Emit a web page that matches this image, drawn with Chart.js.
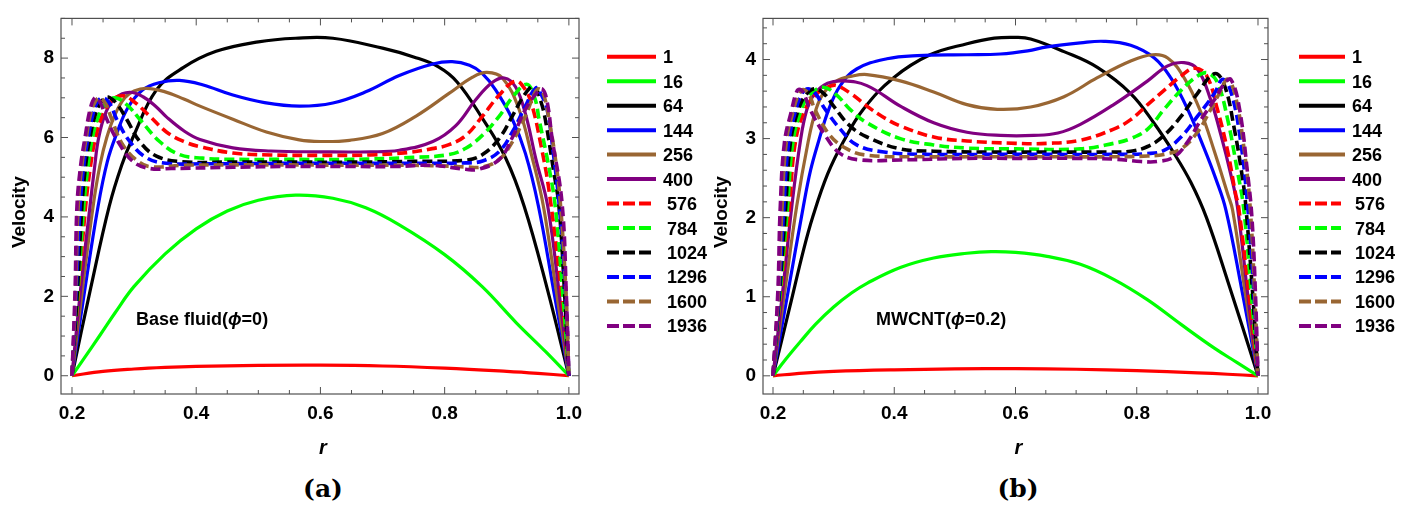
<!DOCTYPE html>
<html lang="en">
<head>
<meta charset="UTF-8">
<title>Velocity profiles</title>
<script src="https://cdn.jsdelivr.net/npm/chart.js"></script>
<style>
  body { margin: 0; background: #fff; }
  .wrap { position: relative; width: 1410px; height: 508px; overflow: hidden; background: #fff; }
  .panel { position: absolute; top: 0; height: 470px; }
  #boxA { left: 0; width: 712px; }
  #boxB { left: 700px; width: 710px; }
  .caption {
    position: absolute; top: 474px; width: 80px; text-align: center;
    font-family: "DejaVu Serif", serif; font-weight: bold; font-size: 25px; color: #000;
  }
</style>
</head>
<body>
<div class="wrap">
  <div class="panel" id="boxA"><canvas id="chartA"></canvas></div>
  <div class="panel" id="boxB"><canvas id="chartB"></canvas></div>
  <div class="caption" style="left:283px">(a)</div>
  <div class="caption" style="left:978px">(b)</div>
</div>

<script>
// legend entries and styles
const seriesNames = ['1', '16', '64', '144', '256', '400', '576', '784', '1024', '1296', '1600', '1936'];
const colors = ['#ff0000', '#00ff00', '#000000', '#0000ff', '#996633', '#800080',
                '#ff0000', '#00ff00', '#000000', '#0000ff', '#996633', '#800080'];
const dashed = [false, false, false, false, false, false, true, true, true, true, true, true];

// tick labels
const xTicksA = [0.2, 0.4, 0.6, 0.8, 1.0];
const yTicksA = [0, 2, 4, 6, 8];
const xTicksB = [0.2, 0.4, 0.6, 0.8, 1.0];
const yTicksB = [0, 1, 2, 3, 4];

// (a) base fluid, phi = 0   -- [r, velocity]
const a1 = [[0.2,0],[0.25,0.11],[0.3,0.17],[0.35,0.21],[0.4,0.235],[0.5,0.26],[0.6,0.265],[0.7,0.245],[0.8,0.19],[0.9,0.11],[0.95,0.06],[1,0]];
const a16 = [[0.2,0],[0.22,0.45],[0.245,1.02],[0.27,1.6],[0.3,2.25],[0.35,3.07],[0.4,3.7],[0.45,4.15],[0.5,4.42],[0.56,4.55],[0.62,4.47],[0.673,4.23],[0.727,3.8],[0.8,3.05],[0.86,2.25],[0.915,1.34],[0.963,0.6],[1,0]];
const a64 = [[0.2,0],[0.23,2.2],[0.26,4.27],[0.28,5.3],[0.298,6.0],[0.336,7.2],[0.379,7.76],[0.432,8.17],[0.5,8.41],[0.56,8.5],[0.62,8.5],[0.7,8.25],[0.75,8.03],[0.79,7.78],[0.82,7.4],[0.86,6.5],[0.898,5.49],[0.928,4.27],[0.965,2.2],[1,0]];
const a144 = [[0.2,0],[0.22,2.1],[0.242,4.27],[0.257,5.4],[0.272,6.1],[0.29,6.75],[0.314,7.2],[0.34,7.38],[0.373,7.44],[0.41,7.33],[0.459,7.07],[0.51,6.88],[0.566,6.79],[0.62,6.87],[0.673,7.15],[0.727,7.56],[0.781,7.85],[0.812,7.91],[0.84,7.82],[0.86,7.62],[0.882,7.2],[0.909,6.46],[0.93,5.6],[0.951,4.27],[0.976,2.1],[1,0]];
const a256 = [[0.2,0],[0.217,2.2],[0.234,4.27],[0.245,5.3],[0.256,6.0],[0.27,6.6],[0.285,7.0],[0.3,7.17],[0.32,7.24],[0.35,7.15],[0.38,6.97],[0.406,6.79],[0.459,6.46],[0.513,6.14],[0.566,5.94],[0.6,5.9],[0.647,5.93],[0.7,6.1],[0.754,6.54],[0.807,7.11],[0.845,7.52],[0.868,7.64],[0.893,7.5],[0.92,6.7],[0.941,5.49],[0.959,4.27],[0.98,2.1],[1,0]];
const a400 = [[0.2,0],[0.214,2.2],[0.229,4.27],[0.236,5.2],[0.243,6.0],[0.255,6.65],[0.27,7.0],[0.293,7.14],[0.315,7.02],[0.335,6.78],[0.352,6.52],[0.38,6.17],[0.406,5.95],[0.459,5.74],[0.52,5.66],[0.6,5.64],[0.68,5.64],[0.727,5.68],[0.781,5.9],[0.818,6.3],[0.85,6.95],[0.876,7.38],[0.896,7.5],[0.914,7.28],[0.93,6.6],[0.947,5.45],[0.966,4.27],[0.985,2.0],[1,0]];
const a576 = [[0.2,0],[0.211,2.2],[0.222,4.27],[0.23,5.3],[0.238,6.0],[0.25,6.6],[0.265,6.95],[0.283,7.05],[0.3,6.9],[0.325,6.54],[0.352,6.14],[0.38,5.9],[0.406,5.77],[0.459,5.61],[0.52,5.56],[0.6,5.55],[0.68,5.56],[0.74,5.62],[0.78,5.72],[0.807,5.82],[0.834,6.05],[0.861,6.54],[0.888,7.07],[0.914,7.42],[0.93,7.2],[0.941,6.79],[0.954,5.89],[0.968,4.67],[0.988,2.1],[1,0]];
const a784 = [[0.2,0],[0.21,2.2],[0.219,4.27],[0.226,5.3],[0.233,6.0],[0.243,6.55],[0.256,6.9],[0.27,7.0],[0.29,6.8],[0.309,6.46],[0.341,5.9],[0.373,5.57],[0.41,5.48],[0.459,5.45],[0.55,5.45],[0.65,5.45],[0.75,5.5],[0.807,5.57],[0.834,5.73],[0.861,6.06],[0.888,6.54],[0.91,7.03],[0.932,7.34],[0.945,7.0],[0.952,6.46],[0.968,5.24],[0.978,4.27],[0.99,2.1],[1,0]];
const a1024 = [[0.2,0],[0.209,2.2],[0.216,4.27],[0.222,5.3],[0.229,6.0],[0.238,6.6],[0.248,6.92],[0.258,7.02],[0.272,6.85],[0.288,6.46],[0.309,5.9],[0.336,5.53],[0.378,5.39],[0.45,5.38],[0.55,5.38],[0.65,5.38],[0.75,5.4],[0.834,5.43],[0.861,5.57],[0.888,5.98],[0.909,6.54],[0.93,7.11],[0.944,7.29],[0.955,6.9],[0.962,6.46],[0.975,5.2],[0.984,4.27],[0.993,2.1],[1,0]];
const a1296 = [[0.2,0],[0.207,2.2],[0.213,4.27],[0.219,5.3],[0.226,6.0],[0.234,6.6],[0.242,6.92],[0.25,7.0],[0.261,6.85],[0.272,6.46],[0.293,5.9],[0.32,5.49],[0.352,5.35],[0.42,5.34],[0.55,5.35],[0.65,5.35],[0.75,5.35],[0.834,5.36],[0.861,5.41],[0.888,5.65],[0.909,6.14],[0.93,6.79],[0.947,7.25],[0.955,7.1],[0.965,6.7],[0.975,5.6],[0.985,4.2],[0.995,2.0],[1,0]];
const a1600 = [[0.2,0],[0.206,2.2],[0.21,4.27],[0.216,5.3],[0.223,6.0],[0.23,6.6],[0.238,6.92],[0.245,7.0],[0.254,6.85],[0.264,6.46],[0.282,5.81],[0.309,5.37],[0.33,5.26],[0.378,5.3],[0.45,5.31],[0.55,5.31],[0.65,5.3],[0.75,5.3],[0.807,5.28],[0.834,5.26],[0.861,5.26],[0.888,5.45],[0.909,5.89],[0.93,6.54],[0.946,7.15],[0.953,7.22],[0.96,7.05],[0.968,6.46],[0.978,5.5],[0.986,4.4],[0.995,2.2],[1,0]];
const a1936 = [[0.2,0],[0.205,2.2],[0.208,4.27],[0.214,5.3],[0.221,6.0],[0.229,6.7],[0.237,7.0],[0.245,6.9],[0.256,6.46],[0.274,5.9],[0.298,5.4],[0.325,5.22],[0.36,5.22],[0.459,5.25],[0.55,5.27],[0.65,5.27],[0.72,5.27],[0.78,5.3],[0.834,5.2],[0.855,5.2],[0.888,5.45],[0.909,6.0],[0.93,6.71],[0.947,7.1],[0.957,7.22],[0.965,6.9],[0.973,5.98],[0.989,4.35],[0.996,2.0],[1,0]];

// (b) MWCNT, phi = 0.2   -- [r, velocity]
const b1 = [[0.2,0],[0.25,0.035],[0.3,0.055],[0.4,0.075],[0.5,0.087],[0.6,0.09],[0.7,0.083],[0.8,0.065],[0.9,0.038],[0.95,0.02],[1,0]];
const b16 = [[0.2,0],[0.22,0.2],[0.245,0.43],[0.27,0.65],[0.3,0.87],[0.33,1.05],[0.355,1.17],[0.41,1.37],[0.465,1.49],[0.52,1.55],[0.56,1.57],[0.6,1.56],[0.652,1.51],[0.707,1.41],[0.762,1.22],[0.818,0.96],[0.873,0.65],[0.928,0.35],[0.965,0.17],[1,0]];
const b64 = [[0.2,0],[0.228,0.88],[0.25,1.58],[0.266,2.02],[0.29,2.55],[0.316,2.96],[0.349,3.37],[0.399,3.77],[0.459,4.06],[0.52,4.2],[0.565,4.27],[0.6,4.28],[0.625,4.26],[0.68,4.1],[0.735,3.9],[0.79,3.57],[0.828,3.2],[0.861,2.82],[0.889,2.45],[0.915,2.0],[0.95,1.2],[1,0]];
const b144 = [[0.2,0],[0.225,1.07],[0.25,2.14],[0.262,2.6],[0.275,2.96],[0.292,3.37],[0.311,3.67],[0.338,3.88],[0.388,4.01],[0.438,4.05],[0.52,4.06],[0.575,4.07],[0.62,4.11],[0.652,4.16],[0.707,4.21],[0.746,4.23],[0.79,4.18],[0.829,4.02],[0.856,3.77],[0.884,3.37],[0.911,2.88],[0.93,2.5],[0.947,2.1],[0.973,1.1],[1,0]];
const b256 = [[0.2,0],[0.22,1.1],[0.239,2.14],[0.258,2.96],[0.271,3.37],[0.283,3.57],[0.305,3.73],[0.33,3.79],[0.355,3.81],[0.41,3.73],[0.465,3.59],[0.52,3.43],[0.57,3.37],[0.625,3.4],[0.68,3.53],[0.735,3.77],[0.79,3.98],[0.826,4.06],[0.851,4.02],[0.878,3.77],[0.906,3.33],[0.928,2.84],[0.95,2.3],[0.958,2.1],[0.98,1.0],[1,0]];
const b400 = [[0.2,0],[0.216,1.07],[0.231,2.14],[0.245,2.96],[0.256,3.37],[0.269,3.57],[0.29,3.7],[0.316,3.73],[0.355,3.67],[0.41,3.41],[0.465,3.2],[0.52,3.08],[0.575,3.04],[0.63,3.04],[0.67,3.07],[0.707,3.18],[0.762,3.43],[0.818,3.73],[0.851,3.92],[0.878,3.96],[0.9,3.88],[0.922,3.49],[0.939,3.04],[0.955,2.55],[0.966,2.14],[0.985,0.9],[1,0]];
const b576 = [[0.2,0],[0.213,1.07],[0.227,2.14],[0.237,2.96],[0.253,3.37],[0.27,3.55],[0.29,3.65],[0.305,3.67],[0.33,3.56],[0.355,3.41],[0.38,3.28],[0.41,3.16],[0.465,3.02],[0.52,2.97],[0.6,2.94],[0.652,2.94],[0.707,2.98],[0.762,3.12],[0.79,3.24],[0.818,3.43],[0.845,3.61],[0.873,3.79],[0.895,3.89],[0.915,3.8],[0.933,3.37],[0.95,2.84],[0.963,2.3],[0.968,2.14],[0.987,0.9],[1,0]];
const b784 = [[0.2,0],[0.212,1.07],[0.224,2.14],[0.233,2.96],[0.247,3.37],[0.26,3.55],[0.283,3.65],[0.305,3.55],[0.327,3.37],[0.355,3.2],[0.41,3.0],[0.465,2.92],[0.52,2.88],[0.6,2.87],[0.707,2.87],[0.762,2.94],[0.79,3.0],[0.818,3.12],[0.845,3.37],[0.873,3.61],[0.9,3.79],[0.917,3.83],[0.933,3.71],[0.95,3.24],[0.966,2.59],[0.976,2.14],[0.99,0.95],[1,0]];
const b1024 = [[0.2,0],[0.211,1.07],[0.221,2.14],[0.229,2.96],[0.242,3.37],[0.254,3.55],[0.269,3.63],[0.285,3.56],[0.3,3.41],[0.327,3.16],[0.355,3.02],[0.41,2.87],[0.465,2.84],[0.55,2.83],[0.65,2.83],[0.75,2.83],[0.79,2.84],[0.818,2.9],[0.845,3.04],[0.873,3.28],[0.9,3.57],[0.928,3.82],[0.944,3.69],[0.961,3.12],[0.975,2.47],[0.98,2.14],[0.992,0.95],[1,0]];
const b1296 = [[0.2,0],[0.21,1.07],[0.218,2.14],[0.226,2.96],[0.238,3.37],[0.248,3.57],[0.258,3.63],[0.27,3.57],[0.286,3.37],[0.311,3.12],[0.338,2.92],[0.383,2.83],[0.45,2.8],[0.55,2.8],[0.65,2.8],[0.76,2.8],[0.818,2.81],[0.845,2.85],[0.873,3.02],[0.9,3.28],[0.928,3.57],[0.942,3.75],[0.955,3.6],[0.97,3.04],[0.983,2.14],[0.994,0.95],[1,0]];
const b1600 = [[0.2,0],[0.209,1.07],[0.215,2.14],[0.222,2.96],[0.234,3.37],[0.242,3.55],[0.25,3.62],[0.26,3.55],[0.269,3.37],[0.294,3.04],[0.322,2.87],[0.355,2.79],[0.45,2.77],[0.55,2.77],[0.65,2.77],[0.76,2.77],[0.818,2.78],[0.845,2.8],[0.873,2.87],[0.9,3.08],[0.922,3.37],[0.939,3.61],[0.95,3.75],[0.963,3.53],[0.977,2.87],[0.987,2.14],[0.995,0.95],[1,0]];
const b1936 = [[0.2,0],[0.208,1.07],[0.212,2.14],[0.219,2.96],[0.231,3.37],[0.237,3.55],[0.242,3.62],[0.25,3.58],[0.261,3.37],[0.286,3.04],[0.311,2.81],[0.344,2.73],[0.41,2.73],[0.52,2.75],[0.6,2.75],[0.7,2.75],[0.762,2.74],[0.807,2.71],[0.834,2.71],[0.862,2.77],[0.884,2.96],[0.906,3.24],[0.928,3.49],[0.944,3.69],[0.955,3.75],[0.969,3.4],[0.983,2.55],[0.99,2.0],[0.996,1.0],[1,0]];

const seriesA = [a1, a16, a64, a144, a256, a400, a576, a784, a1024, a1296, a1600, a1936];
const seriesB = [b1, b16, b64, b144, b256, b400, b576, b784, b1024, b1296, b1600, b1936];

const FONT = '"Liberation Sans", Arial, sans-serif';

function makeDatasets(series) {
  return series.map((pts, i) => ({
    label: seriesNames[i],
    data: pts.map(p => ({ x: p[0], y: p[1] })),
    borderColor: colors[i],
    borderWidth: dashed[i] ? 3.6 : 3.2,
    borderDash: dashed[i] ? [10, 5] : [],
    pointRadius: 0,
    fill: false,
    tension: 0.4,
    order: -i   // later series drawn on top, like the original
  }));
}

// frame with inward ticks, axis titles, note and legend
function decorations(opt) {
  return {
    id: 'deco',
    afterDatasetsDraw(chart) {
      const { ctx, chartArea: ca, scales: { x, y } } = chart;
      ctx.save();
      ctx.strokeStyle = '#505050';
      ctx.lineWidth = 1.2;
      ctx.strokeRect(ca.left, ca.top, ca.right - ca.left, ca.bottom - ca.top);

      ctx.lineWidth = 1;
      const xs = [];
      for (let k = 0; k <= 16; k++) xs.push(Math.round((0.2 + k * 0.05) * 100) / 100);
      xs.forEach(v => {
        const major = opt.xTicks.some(t => Math.abs(t - v) < 1e-6);
        const len = major ? 7 : 4;
        const px = x.getPixelForValue(v);
        ctx.beginPath();
        ctx.moveTo(px, ca.bottom); ctx.lineTo(px, ca.bottom - len);
        ctx.moveTo(px, ca.top); ctx.lineTo(px, ca.top + len);
        ctx.stroke();
      });
      const nMinor = Math.floor(opt.yMax / opt.yMinorStep);
      for (let k = 0; k <= nMinor; k++) {
        const v = Math.round(k * opt.yMinorStep * 100) / 100;
        const major = opt.yTicks.some(t => Math.abs(t - v) < 1e-6);
        const len = major ? 7 : 4;
        const py = y.getPixelForValue(v);
        ctx.beginPath();
        ctx.moveTo(ca.left, py); ctx.lineTo(ca.left + len, py);
        ctx.moveTo(ca.right, py); ctx.lineTo(ca.right - len, py);
        ctx.stroke();
      }

      // axis titles
      ctx.fillStyle = '#000';
      ctx.textAlign = 'center';
      ctx.textBaseline = 'middle';
      ctx.font = 'bold 19px ' + FONT;
      ctx.save();
      ctx.translate(ca.left - 41, (ca.top + ca.bottom) / 2 + 6);
      ctx.rotate(-Math.PI / 2);
      ctx.fillText('Velocity', 0, 0);
      ctx.restore();
      ctx.font = 'italic bold 20px ' + FONT;
      ctx.fillText('r', (ca.left + ca.right) / 2 + 3, ca.bottom + 54);

      // in-plot note: text ( phi = value )
      let nx = x.getPixelForValue(opt.noteR);
      const ny = y.getPixelForValue(opt.noteV);
      ctx.textAlign = 'left';
      const parts = [[opt.notePre, 'bold'], ['\u03D5', 'italic bold'], [opt.notePost, 'bold']];
      parts.forEach(([t, st]) => {
        ctx.font = st + ' 18px ' + FONT;
        ctx.fillText(t, nx, ny);
        nx += ctx.measureText(t).width;
      });

      // legend
      ctx.font = 'bold 18px ' + FONT;
      ctx.lineWidth = 4;
      seriesNames.forEach((name, i) => {
        const ry = opt.legendTop + i * 24.48;
        ctx.strokeStyle = colors[i];
        ctx.setLineDash(dashed[i] ? [12, 4] : []);
        ctx.beginPath();
        ctx.moveTo(opt.legendX, ry);
        ctx.lineTo(opt.legendX + (dashed[i] ? opt.dashLen : opt.solidLen), ry);
        ctx.stroke();
        ctx.fillText(name, dashed[i] ? opt.labelDashX : opt.labelX, ry + 1.5);
      });
      ctx.setLineDash([]);
      ctx.restore();
    }
  };
}

function makeChart(id, series, opt) {
  const tickFont = { family: FONT, size: 19, weight: 'bold' };
  return new Chart(document.getElementById(id), {
    type: 'line',
    data: { datasets: makeDatasets(series) },
    options: {
      responsive: true,
      maintainAspectRatio: false,
      animation: false,
      layout: { padding: { left: 0, top: 6, right: opt.padRight, bottom: 0 } },
      plugins: { legend: { display: false }, tooltip: { enabled: false } },
      scales: {
        x: {
          type: 'linear', min: opt.xMin, max: opt.xMax,
          grid: { display: false, drawTicks: false },
          border: { display: false },
          ticks: { font: tickFont, color: '#000', padding: 8, maxRotation: 0, callback: v => v.toFixed(1) },
          afterBuildTicks: s => { s.ticks = opt.xTicks.map(v => ({ value: v })); },
          afterFit: s => { s.height = 76; }
        },
        y: {
          type: 'linear', min: opt.yMin, max: opt.yMax,
          grid: { display: false, drawTicks: false },
          border: { display: false },
          ticks: { font: tickFont, color: '#000', padding: 7, callback: v => String(v) },
          afterBuildTicks: s => { s.ticks = opt.yTicks.map(v => ({ value: v })); },
          afterFit: s => { s.width = opt.axisW; }
        }
      }
    },
    plugins: [decorations(opt)]
  });
}

makeChart('chartA', seriesA, {
  xMin: 0.1823, xMax: 1.0163, yMin: -0.46, yMax: 9.0,
  xTicks: xTicksA, yTicks: yTicksA, yMinorStep: 0.5,
  padRight: 133, axisW: 61,
  noteR: 0.303, noteV: 1.41, notePre: 'Base fluid(', notePost: '=0)',
  legendX: 607, solidLen: 49, dashLen: 44, labelX: 663, labelDashX: 667, legendTop: 56.7
});

makeChart('chartB', seriesB, {
  xMin: 0.1835, xMax: 1.0165, yMin: -0.23, yMax: 4.52,
  xTicks: xTicksB, yTicks: yTicksB, yMinorStep: 0.2,
  padRight: 142, axisW: 63,
  noteR: 0.37, noteV: 0.70, notePre: 'MWCNT(', notePost: '=0.2)',
  legendX: 599, solidLen: 46, dashLen: 42, labelX: 652, labelDashX: 655, legendTop: 56.7
});
</script>
</body>
</html>
